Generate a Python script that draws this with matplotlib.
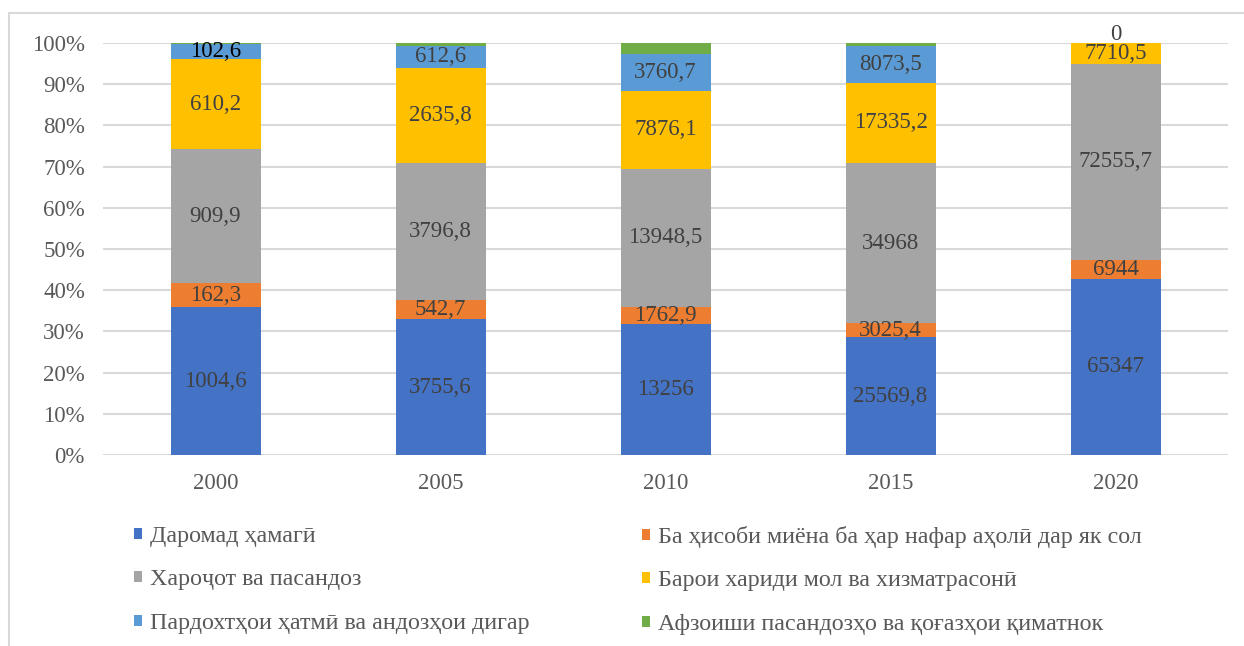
import numpy as np
import matplotlib
matplotlib.use('Agg')
import matplotlib.pyplot as plt
from matplotlib.patches import Rectangle, Patch

plt.rcParams['font.family'] = ['Liberation Serif', 'DejaVu Serif']

years = ['2000', '2005', '2010', '2015', '2020']

# values per series (label text shown on the bars)
daromad = [1004.6, 3755.6, 13256, 25569.8, 65347]
ba_hisobi = [162.3, 542.7, 1762.9, 3025.4, 6944]
harojot = [909.9, 3796.8, 13948.5, 34968, 72555.7]
baroi_haridi = [610.2, 2635.8, 7876.1, 17335.2, 7710.5]
pardokht = [102.6, 612.6, 3760.7, 8073.5, 0]
# green series has no labels in the picture
afzoish = [7, 75, 1100, 600, 0]

names = ['Даромад ҳамагӣ',
         'Ба ҳисоби миёна ба ҳар нафар аҳолӣ дар як сол',
         'Хароҷот ва пасандоз',
         'Барои хариди мол ва хизматрасонӣ',
         'Пардохтҳои ҳатмӣ ва андозҳои дигар',
         'Афзоиши пасандозҳо ва қоғазҳои қиматнок']
colors = ['#4472C4', '#ED7D31', '#A5A5A5', '#FFC000', '#5B9BD5', '#70AD47']
show_labels = [True, True, True, True, True, False]

series = [daromad, ba_hisobi, harojot, baroi_haridi, pardokht, afzoish]
data = np.array(series, dtype=float)
totals = data.sum(axis=0)
pct = data / totals * 100

fig = plt.figure(figsize=(12.44, 6.46), dpi=100)
W, H = 1244, 646
ax = fig.add_axes([103 / W, (646 - 455) / H, (1228 - 103) / W, (455 - 43) / H])

# outer frame of the chart area
fig.patches.append(Rectangle((9 / W, -0.1), 1.2, (646 - 13) / H + 0.1,
                             transform=fig.transFigure, fill=False,
                             edgecolor='#d9d9d9', lw=1.5, zorder=0))

x = np.arange(len(years))
bottom = np.zeros(len(years))
for i in range(len(series)):
    ax.bar(x, pct[i], 0.4, bottom=bottom, color=colors[i], label=names[i], zorder=3)
    if show_labels[i]:
        for j in range(len(years)):
            v = data[i, j]
            txt = f"{v:g}".replace('.', ',')
            yc = bottom[j] + pct[i, j] / 2
            col = '#000000' if (i == 4 and j == 0) else '#404040'
            if v == 0:
                ax.annotate(txt, (x[j], yc), xytext=(0, 6), textcoords='offset points',
                            ha='center', va='center', fontsize=16.5, color=col,
                            zorder=4, annotation_clip=False)
            else:
                ax.text(x[j], yc, txt, ha='center', va='center', fontsize=16.5,
                        color=col, zorder=4)
    bottom += pct[i]

ax.set_xlim(-0.5, len(years) - 0.5)
ax.set_ylim(0, 100)
ax.set_xticks(x)
ax.set_xticklabels(years)
ax.set_yticks(np.arange(0, 101, 10))
ax.set_yticklabels([f"{t}%" for t in range(0, 101, 10)])
ax.tick_params(axis='both', length=0, labelsize=16.5, labelcolor='#595959')
ax.tick_params(axis='y', pad=13)
ax.tick_params(axis='x', pad=13)
ax.yaxis.grid(True, color='#d9d9d9', lw=1.5, zorder=0)
for s in ax.spines.values():
    s.set_visible(False)

handles = [Patch(facecolor=c) for c in colors]
leg_kw = dict(frameon=False, fontsize=17.3, labelcolor='#595959', handlelength=0.33,
              handleheight=0.33, handletextpad=0.35, labelspacing=0.93,
              borderpad=0, borderaxespad=0, loc='upper left')
leg1 = fig.legend([handles[0], handles[2], handles[4]], [names[0], names[2], names[4]],
                  bbox_to_anchor=(134 / W, (646 - 526) / H), **leg_kw)
leg2 = fig.legend([handles[1], handles[3], handles[5]], [names[1], names[3], names[5]],
                  bbox_to_anchor=(642 / W, (646 - 526) / H), **leg_kw)

fig.savefig('out.png', dpi=100)
